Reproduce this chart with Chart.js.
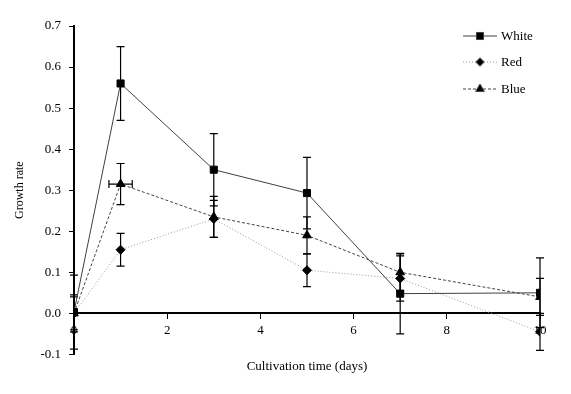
<!DOCTYPE html>
<html>
<head>
<meta charset="utf-8">
<script src="https://cdn.jsdelivr.net/npm/chart.js@4.4.0/dist/chart.umd.min.js"></script>
<style>
  html, body { margin: 0; padding: 0; background: #fff; }
  #wrap { width: 571px; height: 394px; }
</style>
</head>
<body>
<div id="wrap"><canvas id="growthChart"></canvas></div>
<script>
// Data
const days = [0, 1, 3, 5, 7, 10];
const white = [0.003, 0.56, 0.35, 0.293, 0.048, 0.05];
const whiteErr = [0.09, 0.09, 0.088, 0.087, 0.098, 0.085];
const red = [0.0, 0.155, 0.23, 0.105, 0.085, -0.045];
const redErr = [0.04, 0.04, 0.045, 0.04, 0.055, 0.045];
const blue = [0.0, 0.315, 0.235, 0.19, 0.1, 0.04];
const blueErr = [0.045, 0.05, 0.05, 0.045, 0.045, 0.045];
const blueXErr = [0, 0.25, 0, 0, 0, 0];
const seriesNames = ['White', 'Red', 'Blue'];

const serif = "'Liberation Serif', 'DejaVu Serif', serif";

function toPoints(ys) {
  return days.map((d, i) => ({ x: d, y: ys[i] }));
}

// error bars drawn through the chart scales
const errorBars = {
  id: 'errorBars',
  beforeDatasetsDraw(chart) {
    const ctx = chart.ctx;
    const xs = chart.scales.x, ys = chart.scales.y;
    const errs = [whiteErr, redErr, blueErr];
    const xErrs = [null, null, blueXErr];
    const cap = 4;
    ctx.save();
    ctx.strokeStyle = '#000';
    ctx.lineWidth = 1.2;
    chart.data.datasets.forEach((ds, di) => {
      ds.data.forEach((p, i) => {
        const px = xs.getPixelForValue(p.x);
        const py = ys.getPixelForValue(p.y);
        const top = ys.getPixelForValue(p.y + errs[di][i]);
        const bot = ys.getPixelForValue(p.y - errs[di][i]);
        ctx.beginPath();
        ctx.moveTo(px, top); ctx.lineTo(px, bot);
        ctx.moveTo(px - cap, top); ctx.lineTo(px + cap, top);
        ctx.moveTo(px - cap, bot); ctx.lineTo(px + cap, bot);
        ctx.stroke();
        if (xErrs[di] && xErrs[di][i] > 0) {
          const l = xs.getPixelForValue(p.x - xErrs[di][i]);
          const r = xs.getPixelForValue(p.x + xErrs[di][i]);
          ctx.beginPath();
          ctx.moveTo(l, py); ctx.lineTo(r, py);
          ctx.moveTo(l, py - cap); ctx.lineTo(l, py + cap);
          ctx.moveTo(r, py - cap); ctx.lineTo(r, py + cap);
          ctx.stroke();
        }
      });
    });
    ctx.restore();
  }
};

// legend with line + marker like the original
const lineLegend = {
  id: 'lineLegend',
  afterDraw(chart) {
    const ctx = chart.ctx;
    const x0 = 463, x1 = 497, tx = 501;
    const rows = [36, 62, 89];
    ctx.save();
    chart.data.datasets.forEach((ds, i) => {
      const y = rows[i];
      ctx.strokeStyle = ds.borderColor;
      ctx.lineWidth = ds.borderWidth;
      ctx.setLineDash(ds.borderDash || []);
      ctx.beginPath();
      ctx.moveTo(x0, y); ctx.lineTo(x1, y);
      ctx.stroke();
      ctx.setLineDash([]);
      Chart.helpers.drawPoint(ctx, {
        pointStyle: ds.pointStyle, radius: ds.pointRadius, borderWidth: 1
      }, (x0 + x1) / 2, y);
      ctx.fillStyle = '#000';
      ctx.font = '13px ' + serif;
      ctx.textBaseline = 'middle';
      ctx.fillText(seriesNames[i], tx, y + 1);
    });
    ctx.restore();
  }
};

const ctx = document.getElementById('growthChart').getContext('2d');
new Chart(ctx, {
  type: 'line',
  data: {
    datasets: [
      { label: seriesNames[0], data: toPoints(white), borderColor: '#404040', borderWidth: 1,
        pointStyle: 'rect', pointRadius: 5, pointBackgroundColor: '#000', pointBorderColor: '#000' },
      { label: seriesNames[1], data: toPoints(red), borderColor: '#9a9a9a', borderWidth: 1, borderDash: [1, 2],
        pointStyle: 'rectRot', pointRadius: 4.5, pointBackgroundColor: '#000', pointBorderColor: '#000' },
      { label: seriesNames[2], data: toPoints(blue), borderColor: '#444', borderWidth: 1, borderDash: [3, 2],
        pointStyle: 'triangle', pointRadius: 5, pointBackgroundColor: '#000', pointBorderColor: '#000' }
    ]
  },
  options: {
    responsive: true,
    maintainAspectRatio: false,
    animation: false,
    layout: { padding: { top: 26, right: 31, left: 13, bottom: 20 } },
    plugins: {
      legend: { display: false },
      tooltip: { enabled: false },
      title: {
        display: true, position: 'bottom', fullSize: false,
        text: 'Cultivation time (days)', color: '#000',
        font: { family: serif, size: 13, weight: 'normal' },
        padding: { top: 4, bottom: 0 }
      }
    },
    scales: {
      x: {
        type: 'linear', min: 0, max: 10, position: { y: 0 },
        ticks: { stepSize: 2, color: '#000', font: { family: serif, size: 13 }, padding: 4, maxRotation: 0 },
        grid: { display: true, drawOnChartArea: false, drawTicks: true, tickLength: 5, color: '#000' },
        border: { display: true, color: '#000', width: 2 }
      },
      y: {
        min: -0.1, max: 0.7, position: 'left',
        ticks: { stepSize: 0.1, color: '#000', font: { family: serif, size: 13 }, padding: 8,
          callback: v => (Math.abs(v) < 1e-9 ? 0 : v).toFixed(1) },
        grid: { display: true, drawOnChartArea: false, drawTicks: true, tickLength: 5, color: '#000' },
        border: { display: true, color: '#000', width: 2 },
        title: { display: true, text: 'Growth rate', color: '#000',
          font: { family: serif, size: 12 }, padding: { top: 0, bottom: 5 } }
      }
    }
  },
  plugins: [errorBars, lineLegend]
});
</script>
</body>
</html>
